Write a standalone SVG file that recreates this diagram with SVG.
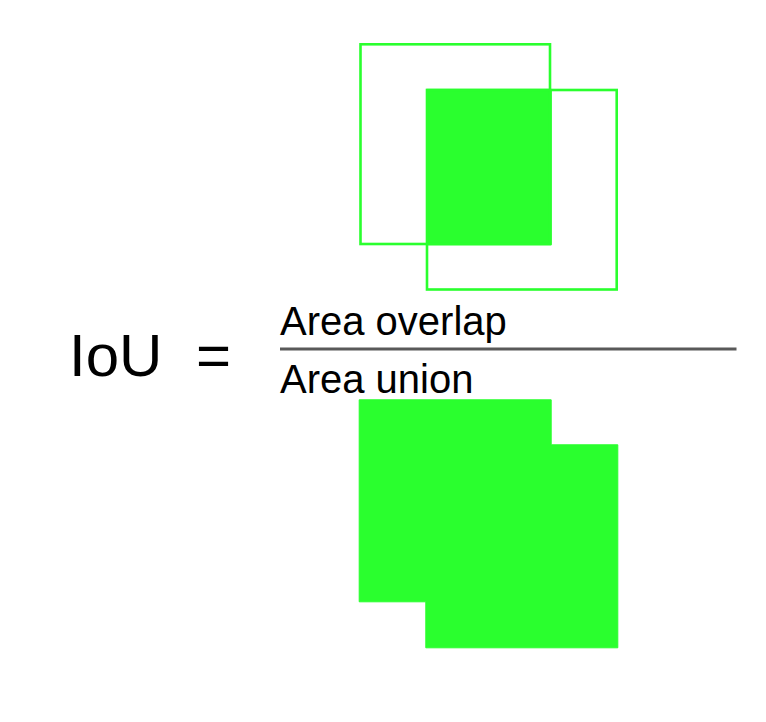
<svg xmlns="http://www.w3.org/2000/svg" width="766" height="722" viewBox="0 0 766 722">
<style>
.box{fill:none;stroke:#2aff2e;stroke-width:2.6}
.fill{fill:#2aff2e;stroke:#2aff2e;stroke-width:1;stroke-linejoin:round}
.big{font-family:"Liberation Sans",Arial,sans-serif;font-size:60px;fill:#000}
.lbl{font-family:"Liberation Sans",Arial,sans-serif;font-size:40px;fill:#000}
</style>
<rect width="766" height="722" fill="#fff"/>
<g id="overlap">
<rect class="fill" x="426.5" y="89.3" width="124.8" height="155.5"/>
<rect class="box" x="360.5" y="44.3" width="189.5" height="199.7"/>
<rect class="box" x="427" y="90" width="189.7" height="199.5"/>
</g>
<g id="formula">
<text class="big" x="69" y="376">IoU</text>
<text class="big" x="196" y="376">=</text>
<line x1="280" y1="349" x2="736.5" y2="349" stroke="#595959" stroke-width="3"/>
<text class="lbl" x="280" y="335">Area overlap</text>
<text class="lbl" x="280" y="393">Area union</text>
</g>
<g id="union">
<path class="fill" d="M359.2 399.8 H551.2 V444.8 H617.8 V647.8 H425.8 V601.8 H359.2 Z"/>
</g>
</svg>
